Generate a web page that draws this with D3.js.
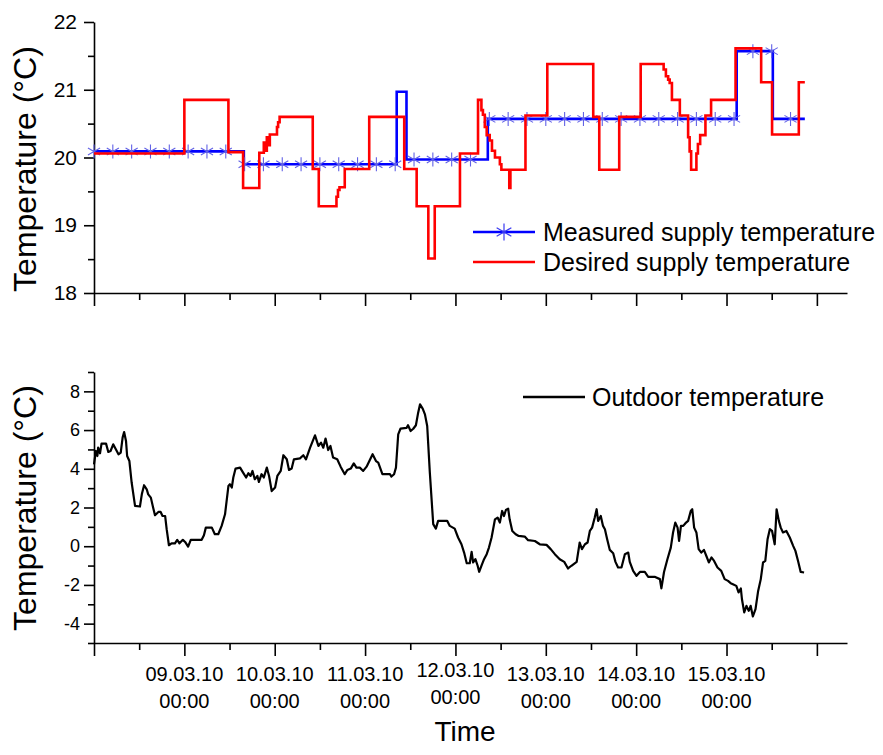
<!DOCTYPE html>
<html>
<head>
<meta charset="utf-8">
<script src="https://cdn.jsdelivr.net/npm/d3@7"></script>
<style>
  body { margin: 0; background: #fff; }
  svg { font-family: "Liberation Sans", Arial, sans-serif; }
</style>
</head>
<body>
<svg width="883" height="755"></svg>
<script>
// time runs in hours from 08.03.10 00:00
var startTime = Date.UTC(2010, 2, 8, 0, 0);
var endTime = Date.UTC(2010, 2, 16, 8, 0);

var measuredSupply = [
  [0, 20.09], [39.8, 19.90], [80.4, 20.97], [83.0, 19.97], [104.6, 20.57],
  [170.7, 21.57], [180.3, 20.57], [188.8, 20.57]
];

var desiredSupply = [
  [0, 20.06], [24.0, 20.85], [35.7, 20.08], [39.6, 19.55], [43.9, 20.07], [45.1, 20.22],
  [45.5, 20.10], [45.9, 20.30], [46.3, 20.18], [46.7, 20.34], [48.6, 20.45], [48.9, 20.52],
  [49.3, 20.60], [58.1, 19.83], [59.7, 19.28], [64.4, 19.42], [64.8, 19.52], [65.2, 19.56],
  [66.6, 19.83], [73.1, 20.60], [82.4, 19.83], [85.7, 19.28], [88.8, 18.51], [90.5, 19.28],
  [97.2, 20.06], [102.0, 20.85], [102.9, 20.70], [103.3, 20.63], [103.8, 20.45], [104.3, 20.33],
  [105.1, 20.25], [105.7, 20.10], [106.5, 20.00], [107.8, 19.90], [108.2, 19.82], [110.3, 19.55],
  [110.6, 19.82], [114.6, 20.62], [120.4, 21.38], [132.6, 20.60], [134.2, 19.82], [139.5, 20.60],
  [145.2, 21.38], [151.3, 21.30], [151.9, 21.20], [152.5, 21.15], [152.9, 21.10], [153.5, 20.85],
  [155.6, 20.62], [157.8, 20.30], [158.2, 20.09], [158.6, 19.82], [160.0, 20.06], [160.4, 20.20],
  [161.0, 20.33], [162.4, 20.62], [163.9, 20.85], [170.4, 21.61], [177.2, 21.11], [180.1, 20.34],
  [187.2, 21.11], [188.8, 21.11]
];

// star markers sit on every 5th hour of the measured series
var markerHours = d3.range(0, 186, 5);

var outdoorTemp = [
  [0, 4.23], [0.5, 4.92], [0.9, 4.66], [1.1, 5.09], [1.6, 4.80], [2.0, 5.30], [3.2, 5.30], [3.8, 4.87],
  [4.4, 4.92], [5.1, 5.26], [5.8, 5.01], [6.5, 4.75], [7.1, 4.84], [7.6, 5.61], [8.0, 5.90], [8.5, 5.44],
  [8.8, 4.66], [9.4, 4.40], [10.0, 3.29], [10.9, 2.08], [12.2, 2.05], [12.7, 2.68], [13.3, 3.15],
  [14.0, 2.94], [14.4, 2.68], [15.1, 2.51], [15.7, 2.00], [16.2, 1.60], [17.1, 1.77], [17.7, 1.77],
  [18.2, 1.56], [18.9, 1.56], [19.3, 0.88], [19.9, 0.05], [20.6, 0.15], [21.5, 0.15], [22.1, 0.33],
  [22.7, 0.15], [23.6, 0.33], [24.2, 0.22], [25.0, -0.02], [25.7, 0.33], [28.6, 0.33], [29.2, 0.57],
  [29.7, 0.96], [31.3, 0.96], [32.1, 0.62], [33.0, 0.62], [33.9, 1.05], [34.8, 1.65], [35.7, 3.11],
  [36.1, 3.20], [36.6, 3.03], [37.0, 3.55], [37.6, 4.01], [38.8, 4.06], [39.6, 3.80], [40.4, 3.55],
  [41.0, 3.77], [41.6, 3.63], [42.1, 3.89], [42.7, 3.46], [43.4, 3.63], [43.8, 3.32], [44.5, 3.72],
  [45.1, 3.55], [45.9, 4.06], [46.5, 3.63], [47.2, 2.85], [48.1, 3.03], [48.7, 3.63], [49.6, 3.89],
  [50.3, 4.70], [51.2, 4.49], [51.8, 3.94], [52.5, 4.01], [53.1, 4.49], [54.7, 4.54], [55.6, 4.70],
  [56.3, 4.49], [57.4, 5.09], [58.7, 5.73], [59.6, 5.18], [60.3, 5.35], [60.9, 5.09], [61.5, 5.56],
  [62.2, 4.97], [62.8, 5.18], [63.5, 4.58], [64.6, 4.49], [65.5, 4.11], [66.6, 3.72], [67.3, 3.94],
  [68.2, 4.01], [69.0, 4.28], [69.7, 4.06], [70.6, 4.06], [71.5, 3.89], [72.4, 4.11], [74.0, 4.75],
  [74.9, 4.40], [75.5, 4.32], [76.6, 3.72], [78.6, 3.72], [79.0, 3.60], [79.7, 3.72], [80.2, 4.06],
  [80.8, 5.78], [81.4, 6.07], [83.0, 6.11], [83.4, 6.25], [84.1, 5.95], [84.8, 6.07], [85.5, 6.25],
  [86.1, 6.90], [86.6, 7.33], [87.3, 7.11], [87.9, 6.81], [88.5, 6.21], [89.2, 3.80], [90.1, 1.14],
  [90.8, 0.91], [91.4, 1.31], [93.8, 1.31], [94.5, 1.05], [95.8, 0.91], [96.7, 0.45], [97.6, 0.10],
  [98.3, -0.33], [99.0, -0.88], [99.8, -0.88], [100.3, -0.29], [100.7, -0.84], [101.3, -0.67],
  [101.9, -1.01], [102.3, -1.32], [102.9, -1.01], [103.6, -0.67], [104.3, -0.41], [104.9, -0.07],
  [105.6, 0.45], [106.5, 1.39], [107.2, 1.48], [107.8, 1.22], [108.4, 1.82], [108.9, 1.56],
  [109.4, 1.87], [110.0, 1.94], [110.4, 1.39], [111.1, 0.79], [112.0, 0.62], [112.8, 0.53],
  [114.4, 0.50], [115.3, 0.31], [117.1, 0.27], [118.4, 0.10], [120.2, 0.07], [121.3, -0.15],
  [122.4, -0.41], [123.7, -0.67], [124.9, -0.81], [125.9, -1.15], [126.8, -1.01], [128.2, -0.81],
  [129.0, 0.19], [129.6, -0.15], [130.4, 0.10], [131.1, 0.19], [131.7, 0.79], [132.3, 0.96],
  [133.0, 1.48], [133.5, 1.91], [133.9, 1.31], [134.6, 1.56], [135.2, 1.05], [135.7, 0.88],
  [136.3, 0.36], [137.0, -0.19], [137.9, -0.36], [138.5, -0.81], [139.2, -1.10], [140.1, -1.10],
  [141.0, -0.41], [141.9, -0.33], [142.3, -0.81], [143.2, -1.27], [144.1, -1.53], [145.0, -1.33],
  [146.3, -1.33], [147.2, -1.58], [148.9, -1.58], [150.3, -1.70], [150.7, -2.18], [151.4, -1.33],
  [152.3, -0.67], [153.2, -0.07], [153.8, 0.71], [154.4, 1.22], [155.0, 0.96], [155.4, 0.27],
  [155.9, 1.05], [156.5, 1.05], [157.1, 1.19], [157.8, 1.31], [158.5, 1.82], [158.9, 1.91],
  [159.4, 0.96], [160.0, 0.71], [160.6, -0.15], [161.3, -0.33], [162.0, -0.19], [162.7, -0.53],
  [163.3, -0.84], [164.0, -0.58], [164.7, -0.76], [165.6, -1.10], [166.6, -1.27], [167.5, -1.70],
  [168.4, -1.79], [169.1, -1.91], [169.7, -1.96], [170.6, -2.05], [171.2, -2.39], [171.8, -2.18],
  [172.1, -2.74], [172.7, -3.42], [173.3, -3.08], [173.9, -3.34], [174.4, -3.08], [175.0, -3.63],
  [175.7, -3.25], [176.4, -2.31], [177.1, -1.70], [177.7, -0.84], [178.3, -0.76], [178.9, 0.36],
  [179.5, 0.88], [180.1, 0.79], [180.8, 0.10], [181.3, 1.91], [181.9, 1.31], [182.4, 0.96],
  [183.0, 0.71], [183.9, 0.79], [184.8, 0.45], [185.7, 0.02], [186.3, -0.24], [187.0, -0.76],
  [187.7, -1.33], [188.6, -1.36]
];

var xTickDays = ["09.03.10", "10.03.10", "11.03.10", "12.03.10", "13.03.10", "14.03.10", "15.03.10"];
var xTickTime = "00:00";
var topYTicks = [18, 18.5, 19, 19.5, 20, 20.5, 21, 21.5, 22];
var bottomYTicks = [-5, -4, -3, -2, -1, 0, 1, 2, 3, 4, 5, 6, 7, 8, 9];

var svg = d3.select("svg");

function hourToDate(h) { return new Date(startTime + h * 3600000); }

var x = d3.scaleUtc()
    .domain([new Date(startTime), new Date(endTime)])
    .range([94, 847]);
var yTop = d3.scaleLinear().domain([18, 22]).range([293, 22]);
var yBot = d3.scaleLinear().domain([-5, 9]).range([643, 372]);

function drawXAxis(yPos) {
  var g = svg.append("g").attr("transform", "translate(0," + yPos + ")");
  g.call(d3.axisBottom(x).ticks(d3.utcHour.every(12)).tickFormat("").tickSizeOuter(0));
  g.select(".domain").attr("stroke-width", 1.6);
  g.selectAll(".tick line")
      .attr("stroke-width", 1.6)
      .attr("y2", function(d) { return d.getUTCHours() === 0 ? 13 : 7; });
  return g;
}

function drawYAxis(scale, values, isMajor, fontSize, padding) {
  var g = svg.append("g").attr("transform", "translate(94,0)");
  g.call(d3.axisLeft(scale)
      .tickValues(values)
      .tickSizeOuter(0)
      .tickPadding(padding)
      .tickFormat(function(d) { return isMajor(d) ? d : ""; }));
  g.select(".domain").attr("stroke-width", 1.6);
  g.selectAll(".tick line")
      .attr("stroke-width", 1.6)
      .attr("x2", function(d) { return isMajor(d) ? -10 : -6; });
  g.selectAll(".tick text")
      .attr("font-size", fontSize)
      .attr("font-family", "Liberation Sans, Arial, sans-serif")
      .attr("fill", "#000");
  return g;
}

// ---------- top panel ----------
drawXAxis(293);
drawYAxis(yTop, topYTicks, function(d) { return Number.isInteger(d); }, 21, 11);

var stepLine = d3.line()
    .curve(d3.curveStepAfter)
    .x(function(d) { return x(hourToDate(d[0])); })
    .y(function(d) { return yTop(d[1]); });

svg.append("path")
    .datum(measuredSupply)
    .attr("d", stepLine)
    .attr("fill", "none")
    .attr("stroke", "#0000ff")
    .attr("stroke-width", 2.6);

function measuredAt(h) {
  var v = measuredSupply[0][1];
  measuredSupply.forEach(function(p) { if (p[0] <= h) v = p[1]; });
  return v;
}

function starPath(r) {
  var p = d3.path();
  for (var i = 0; i < 3; i++) {
    var a = Math.PI / 2 + i * Math.PI / 3;
    p.moveTo(r * Math.cos(a), r * Math.sin(a));
    p.lineTo(-r * Math.cos(a), -r * Math.sin(a));
  }
  return p.toString();
}

svg.append("g").selectAll("path")
    .data(markerHours)
    .enter().append("path")
      .attr("transform", function(h) { return "translate(" + x(hourToDate(h)) + "," + yTop(measuredAt(h)) + ")"; })
      .attr("d", starPath(7))
      .attr("fill", "none")
      .attr("stroke", "#6262e6")
      .attr("stroke-width", 1.1);

svg.append("path")
    .datum(desiredSupply)
    .attr("d", stepLine)
    .attr("fill", "none")
    .attr("stroke", "#ff0000")
    .attr("stroke-width", 2.6);

svg.append("text")
    .attr("transform", "translate(36,169) rotate(-90)")
    .attr("text-anchor", "middle")
    .attr("font-size", 32)
    .text("Temperature (°C)");

// legend (top)
var legTop = svg.append("g");
legTop.append("line").attr("x1", 473).attr("x2", 535).attr("y1", 232).attr("y2", 232)
    .attr("stroke", "#0000ff").attr("stroke-width", 2.6);
legTop.append("path").attr("transform", "translate(504,232)").attr("d", starPath(8.5))
    .attr("fill", "none").attr("stroke", "#3a3af0").attr("stroke-width", 1.2);
legTop.append("text").attr("x", 543).attr("y", 241).attr("font-size", 25).text("Measured supply temperature");
legTop.append("line").attr("x1", 473).attr("x2", 535).attr("y1", 262).attr("y2", 262)
    .attr("stroke", "#ff0000").attr("stroke-width", 2.6);
legTop.append("text").attr("x", 543).attr("y", 271).attr("font-size", 25).text("Desired supply temperature");

// ---------- bottom panel ----------
drawXAxis(643);
drawYAxis(yBot, bottomYTicks, function(d) { return d % 2 === 0; }, 18, 8);

var line = d3.line()
    .x(function(d) { return x(hourToDate(d[0])); })
    .y(function(d) { return yBot(d[1]); });

svg.append("path")
    .datum(outdoorTemp)
    .attr("d", line)
    .attr("fill", "none")
    .attr("stroke", "#000")
    .attr("stroke-width", 2.2)
    .attr("stroke-linejoin", "round");

svg.append("text")
    .attr("transform", "translate(36,508) rotate(-90)")
    .attr("text-anchor", "middle")
    .attr("font-size", 32)
    .text("Temperature (°C)");

var legBot = svg.append("g");
legBot.append("line").attr("x1", 523).attr("x2", 585).attr("y1", 397).attr("y2", 397)
    .attr("stroke", "#000").attr("stroke-width", 2.4);
legBot.append("text").attr("x", 592).attr("y", 406).attr("font-size", 25).text("Outdoor temperature");

// x tick labels, two lines each
var parseDay = d3.utcParse("%d.%m.%y");
var labelNudge = { "12.03.10": -4 };
var xLabels = svg.append("g").attr("text-anchor", "middle").attr("font-size", 20);
xTickDays.forEach(function(s) {
  var px = x(parseDay(s));
  var t = xLabels.append("text").attr("y", 681 + (labelNudge[s] || 0));
  t.append("tspan").attr("x", px).text(s);
  t.append("tspan").attr("x", px).attr("dy", 27).text(xTickTime);
});

svg.append("text")
    .attr("x", 465)
    .attr("y", 741)
    .attr("text-anchor", "middle")
    .attr("font-size", 28)
    .text("Time");
</script>
</body>
</html>
